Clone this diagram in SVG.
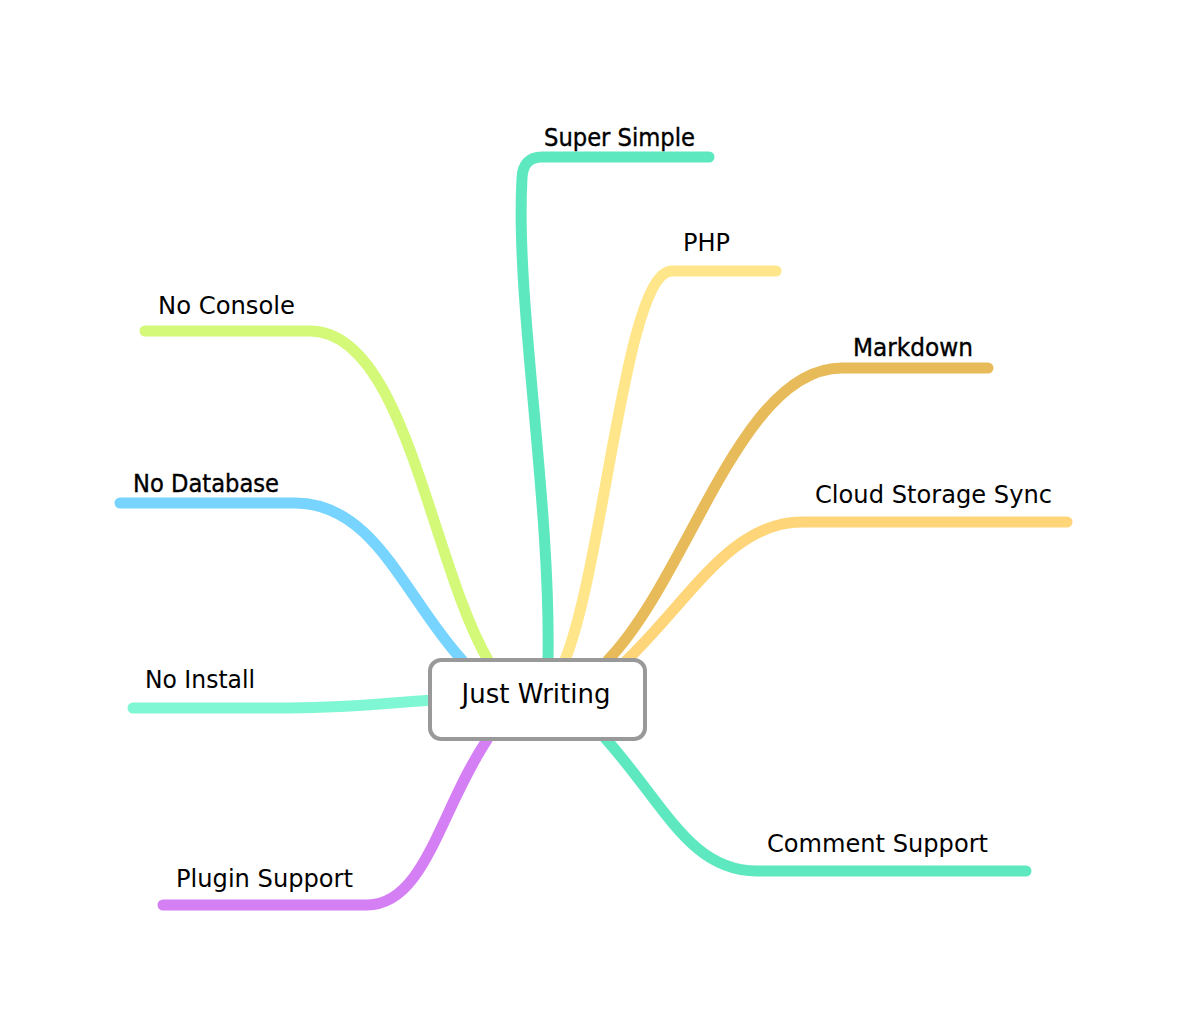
<svg xmlns="http://www.w3.org/2000/svg" width="1186" height="1022" viewBox="0 0 1186 1022">
<style>
.c{fill:none;stroke-width:11;stroke-linecap:round;stroke-linejoin:round}
.t{font-family:"DejaVu Sans","Liberation Sans",sans-serif;font-size:24px;fill:#000}
.b{font-weight:normal;stroke:#000;stroke-width:0.4}
</style>
<rect width="1186" height="1022" fill="#fff"/>
<g id="connectors">
<path class="c" stroke="#5de8c0" d="M548,660 C551,500 515,300 522,178 Q523,157 542,157 L709,157"/>
<path class="c" stroke="#ffe68a" d="M565,660 C605,560 625,271 672,271 L776,271"/>
<path class="c" stroke="#e8bb5a" d="M608,660 C690,575 740,368 842,368 L988,368"/>
<path class="c" stroke="#ffd57a" d="M625,662 C690,600 730,522 802,522 L1067,522"/>
<path class="c" stroke="#5de8c0" d="M605,738 C665,805 690,871 757,871 L1026,871"/>
<path class="c" stroke="#d57ff5" d="M487,740 C440,810 425,905 367,905 L163,905"/>
<path class="c" stroke="#7ff7d4" d="M432,700 C380,704 345,708 290,708 L133,708"/>
<path class="c" stroke="#76d4ff" d="M462,660 C405,598 375,503 295,503 L120,503"/>
<path class="c" stroke="#d4f878" d="M488,660 C430,560 405,331 310,331 L145,331"/>
</g>
<g id="center">
<rect x="430" y="660" width="215" height="79" rx="11" fill="#fff" stroke="#999" stroke-width="4"/>
<text class="t" x="536" y="703" text-anchor="middle" style="font-size:26px">Just Writing</text>
</g>
<g id="super-simple"><text class="t b" x="544" y="146" textLength="151" lengthAdjust="spacingAndGlyphs">Super Simple</text></g>
<g id="php"><text class="t" x="683" y="251">PHP</text></g>
<g id="markdown"><text class="t b" x="853" y="356" textLength="120" lengthAdjust="spacingAndGlyphs">Markdown</text></g>
<g id="cloud"><text class="t" x="815" y="503" textLength="237" lengthAdjust="spacingAndGlyphs">Cloud Storage Sync</text></g>
<g id="comment"><text class="t" x="767" y="852" textLength="221" lengthAdjust="spacingAndGlyphs">Comment Support</text></g>
<g id="plugin"><text class="t" x="176" y="887" textLength="177" lengthAdjust="spacingAndGlyphs">Plugin Support</text></g>
<g id="no-install"><text class="t" x="145" y="688" textLength="110" lengthAdjust="spacingAndGlyphs">No Install</text></g>
<g id="no-database"><text class="t b" x="133" y="492" textLength="146" lengthAdjust="spacingAndGlyphs">No Database</text></g>
<g id="no-console"><text class="t" x="158" y="314" textLength="137" lengthAdjust="spacingAndGlyphs">No Console</text></g>
</svg>
